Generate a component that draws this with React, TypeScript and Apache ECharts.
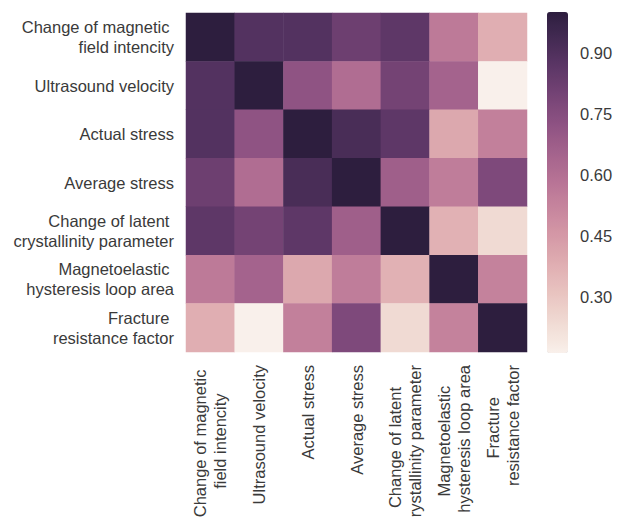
import React, { useEffect, useRef } from "react";
import * as echarts from "echarts";

// Feature names (rows top→bottom, columns left→right)
const features = [
  "Change of magnetic \nfield intencity",
  "Ultrasound velocity",
  "Actual stress",
  "Average stress",
  "Change of latent \ncrystallinity parameter",
  "Magnetoelastic \nhysteresis loop area",
  "Fracture \nresistance factor",
];

// Pairwise correlation coefficients, one array per feature row
const magneticField = [1.0, 0.89, 0.89, 0.82, 0.86, 0.56, 0.38];
const ultrasoundVelocity = [0.89, 1.0, 0.72, 0.61, 0.8, 0.65, 0.163];
const actualStress = [0.89, 0.72, 1.0, 0.92, 0.86, 0.4, 0.54];
const averageStress = [0.82, 0.61, 0.92, 1.0, 0.67, 0.55, 0.77];
const latentCrystallinity = [0.86, 0.8, 0.86, 0.67, 1.0, 0.37, 0.24];
const hysteresisLoopArea = [0.56, 0.65, 0.4, 0.55, 0.37, 1.0, 0.53];
const fractureResistance = [0.38, 0.163, 0.54, 0.77, 0.24, 0.53, 1.0];

const matrix = [
  magneticField,
  ultrasoundVelocity,
  actualStress,
  averageStress,
  latentCrystallinity,
  hysteresisLoopArea,
  fractureResistance,
];

const colorbarTicks = [0.3, 0.45, 0.6, 0.75, 0.9];

const FONT = "'Liberation Sans', Arial, sans-serif";
const TEXT_COLOR = "#3a3a3a";
const FONT_SIZE = 16.5;

// Green's cubehelix scheme (start 0, rotation 0.4, hue 0.8), sampled light→dark
function cubehelix(x: number): string {
  const start = 0;
  const rot = 0.4;
  const hue = 0.8;
  const xg = x;
  const a = (hue * xg * (1 - xg)) / 2;
  const phi = 2 * Math.PI * (start / 3 + rot * x);
  const c = Math.cos(phi);
  const s = Math.sin(phi);
  const r = xg + a * (-0.14861 * c + 1.78277 * s);
  const g = xg + a * (-0.29227 * c - 0.90649 * s);
  const b = xg + a * (1.97294 * c);
  const to = (v: number) => Math.round(Math.min(1, Math.max(0, v)) * 255);
  return `rgb(${to(r)},${to(g)},${to(b)})`;
}

const STEPS = 48;
const palette = Array.from({ length: STEPS + 1 }, (_, i) => cubehelix(0.95 - (0.8 * i) / STEPS));

export default function App() {
  const ref = useRef<HTMLDivElement>(null);

  useEffect(() => {
    if (!ref.current) return;
    const chart = echarts.init(ref.current, undefined, { renderer: "svg" });

    const all = matrix.flat();
    const vMin = Math.min(...all);
    const vMax = Math.max(...all);

    const data: [number, number, number][] = [];
    matrix.forEach((row, yi) => {
      row.forEach((v, xi) => data.push([xi, yi, v]));
    });

    const richLine = {
      c: { align: "center", fontSize: FONT_SIZE, fontFamily: FONT, color: TEXT_COLOR, lineHeight: 20 },
    };

    chart.setOption({
      animation: false,
      backgroundColor: "#ffffff",
      textStyle: { fontFamily: FONT },
      grid: [
        { left: 186, top: 13, width: 341, height: 339, outerBoundsMode: "none", containLabel: false },
        { left: 547, top: 12, width: 21, height: 341, outerBoundsMode: "none", containLabel: false },
      ],
      xAxis: [
        {
          type: "category",
          gridIndex: 0,
          data: features,
          position: "bottom",
          axisLine: { show: false },
          axisTick: { show: false },
          splitLine: { show: false },
          axisLabel: {
            interval: 0,
            rotate: 90,
            margin: 13,
            formatter: (v: string) =>
              v
                .split("\n")
                .map((l) => `{c|${l}}`)
                .join("\n"),
            rich: richLine,
          },
        },
        { type: "value", gridIndex: 1, show: false, min: 0, max: 1 },
      ],
      yAxis: [
        {
          type: "category",
          gridIndex: 0,
          data: features,
          inverse: true,
          axisLine: { show: false },
          axisTick: { show: false },
          splitLine: { show: false },
          axisLabel: {
            interval: 0,
            margin: 12,
            fontSize: FONT_SIZE,
            fontFamily: FONT,
            color: TEXT_COLOR,
            lineHeight: 20,
            align: "right",
          },
        },
        {
          type: "value",
          gridIndex: 1,
          position: "right",
          min: vMin,
          max: vMax,
          axisLine: { show: false },
          axisTick: { show: false },
          splitLine: { show: false },
          axisLabel: {
            customValues: colorbarTicks,
            margin: 12,
            fontSize: FONT_SIZE,
            fontFamily: FONT,
            color: TEXT_COLOR,
            formatter: (v: number) => v.toFixed(2),
          },
        },
      ],
      visualMap: {
        type: "continuous",
        seriesIndex: 0,
        min: vMin,
        max: vMax,
        orient: "vertical",
        left: 547,
        top: 12,
        padding: 0,
        itemWidth: 21,
        itemHeight: 341,
        calculable: false,
        hoverLink: false,
        text: null,
        showLabel: false,
        inRange: { color: palette },
      },
      series: [
        {
          type: "heatmap",
          xAxisIndex: 0,
          yAxisIndex: 0,
          data,
          itemStyle: { borderWidth: 0 },
          emphasis: { disabled: true },
        },
      ],
    });

    return () => chart.dispose();
  }, []);

  return (
    <div
      ref={ref}
      style={{ position: "fixed", left: 0, top: 0, width: 622, height: 517, background: "#fff" }}
    />
  );
}
